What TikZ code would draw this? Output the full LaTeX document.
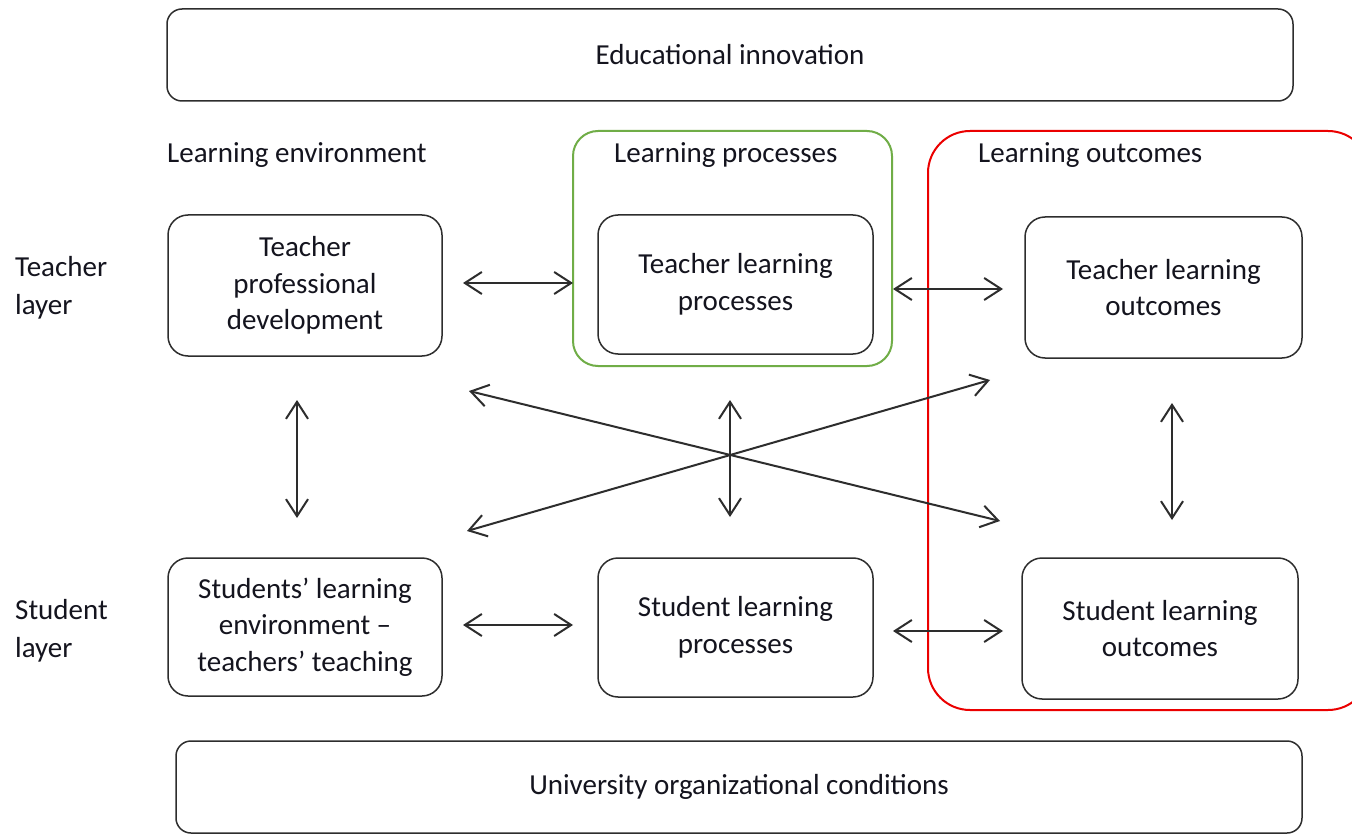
\documentclass[tikz,border=0pt]{standalone}
\usepackage{fontspec}
\setmainfont{Carlito}
\usetikzlibrary{arrows.meta}
\definecolor{boxline}{RGB}{45,45,45}
\definecolor{txt}{RGB}{20,20,30}
\definecolor{grn}{RGB}{112,173,71}
\definecolor{rd}{RGB}{235,0,0}
\tikzset{
  box/.style={draw=boxline, line width=1.5pt, rounded corners=20pt, align=center,
    inner sep=0pt, text=txt, font=\fontsize{29}{36.5}\selectfont},
  lbl/.style={anchor=base west, inner sep=0pt, text=txt, font=\fontsize{29}{38}\selectfont, align=left},
  dbl/.style={{Straight Barb[length=17pt,width=22pt,line width=2pt]}-{Straight Barb[length=17pt,width=22pt,line width=2pt]},
    line width=2pt, draw=boxline},
}
\begin{document}
\begin{tikzpicture}[x=1pt,y=-1pt]
\useasboundingbox (0,0) rectangle (1352,834);
\fill[white] (0,0) rectangle (1352,834);

% frames
\node[draw=grn, line width=2pt, rounded corners=25pt, minimum width=319pt, minimum height=235pt, inner sep=0pt] (green) at (732.5,248.5) {};
\node[draw=rd, line width=2pt, rounded corners=42pt, minimum width=442pt, minimum height=579pt, inner sep=0pt] (red) at (1149,420.5) {};

% top and bottom
\node[box, rounded corners=15pt, minimum width=1126pt, minimum height=92pt] (edu) at (730,55) {Educational innovation};
\node[box, rounded corners=15pt, minimum width=1126pt, minimum height=92pt] (uni) at (739,787) {University organizational conditions};

% column labels
\node[lbl] (le) at (167,163) {Learning environment};
\node[lbl] (lp) at (614,163) {Learning processes};
\node[lbl] (lo) at (978,163) {Learning outcomes};

% row labels (base = last line)
\node[lbl] (tl) at (15,315) {Teacher\\layer};
\node[lbl] (sl) at (15,657) {Student\\layer};

% boxes
\node[box, minimum width=274pt, minimum height=141pt] (tpd) at (305,285.5) {Teacher\\professional\\development};
\node[box, minimum width=275pt, minimum height=139pt] (tlp) at (735.5,284.5) {Teacher learning\\processes};
\node[box, minimum width=277pt, minimum height=141pt] (tlo) at (1163.5,287.5) {Teacher learning\\outcomes};
\node[box, minimum width=274pt, minimum height=138pt] (sle) at (305,627) {Students’ learning\\environment –\\teachers’ teaching};
\node[box, minimum width=275pt, minimum height=139pt] (slp) at (735.5,627.5) {Student learning\\processes};
\node[box, minimum width=276pt, minimum height=141pt] (slo) at (1160,628.5) {Student learning\\outcomes};

% arrow end coordinates
\coordinate (h1a) at (463,283); \coordinate (h1b) at (573,283);
\coordinate (h2a) at (893,289); \coordinate (h2b) at (1003,289);
\coordinate (h3a) at (463,625); \coordinate (h3b) at (573,625);
\coordinate (h4a) at (893,631); \coordinate (h4b) at (1003,631);
\coordinate (v1a) at (297,400); \coordinate (v1b) at (297,518);
\coordinate (v2a) at (730,400); \coordinate (v2b) at (730,517);
\coordinate (v3a) at (1172,403); \coordinate (v3b) at (1172,520);
\coordinate (d1a) at (469,391); \coordinate (d1b) at (1000,521);
\coordinate (d2a) at (467,531); \coordinate (d2b) at (990,380);

\draw[dbl] (h1a) -- (h1b);
\draw[dbl] (h2a) -- (h2b);
\draw[dbl] (h3a) -- (h3b);
\draw[dbl] (h4a) -- (h4b);
\draw[dbl] (v1a) -- (v1b);
\draw[dbl] (v2a) -- (v2b);
\draw[dbl] (v3a) -- (v3b);
\draw[dbl] (d1a) -- (d1b);
\draw[dbl] (d2a) -- (d2b);
\end{tikzpicture}
\end{document}
